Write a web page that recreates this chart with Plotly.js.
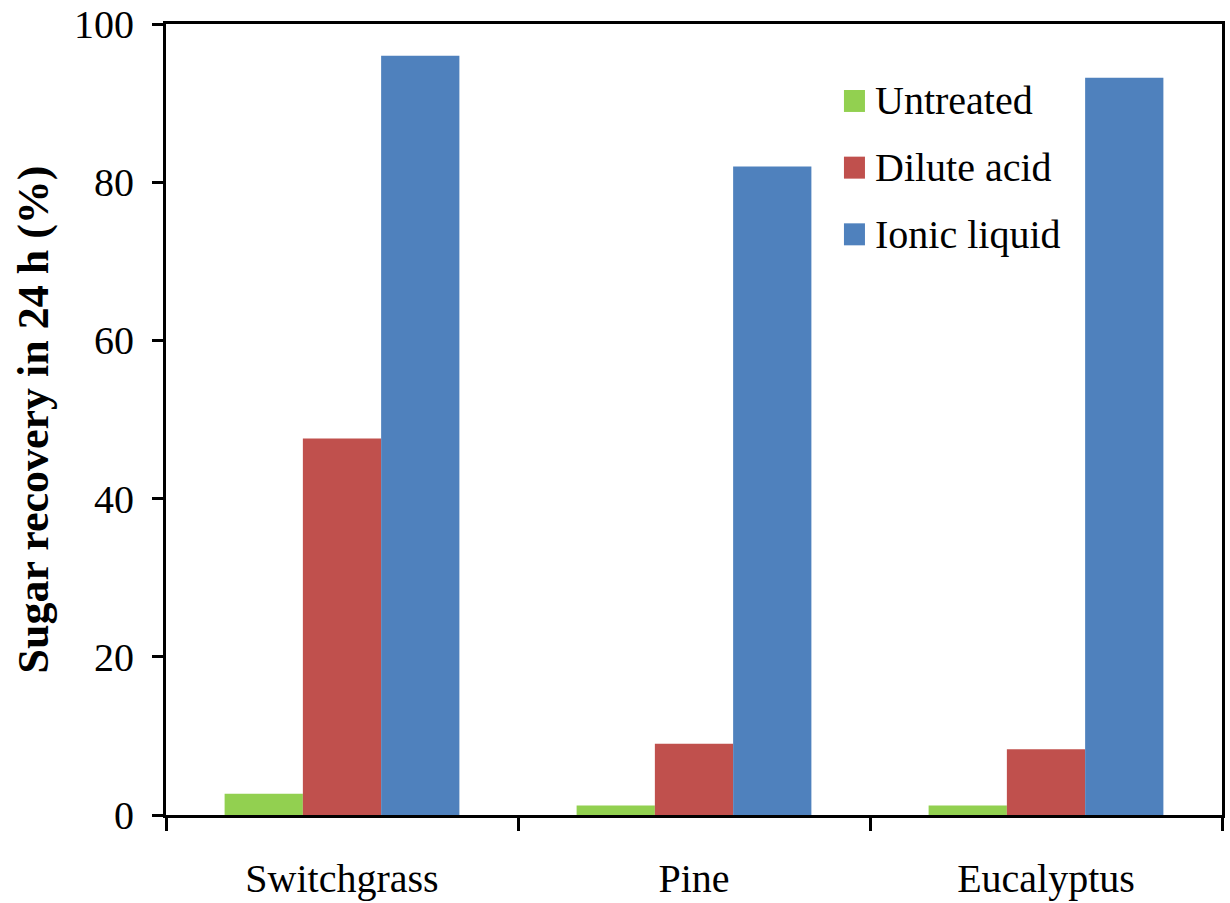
<!DOCTYPE html>
<html>
<head>
<meta charset="utf-8">
<script src="https://cdn.plot.ly/plotly-3.0.1.min.js"></script>
<style>
  html, body { margin: 0; padding: 0; background: #fff; }
  #chart { width: 1230px; height: 903px; }
</style>
</head>
<body>
<div id="chart"></div>
<script>
// Biomass feedstocks and pretreatments
const categories = ["Switchgrass", "Pine", "Eucalyptus"];
const seriesNames = ["Untreated", "Dilute acid", "Ionic liquid"];
const untreated = [2.7, 1.2, 1.2];
const diluteAcid = [47.6, 9.0, 8.3];
const ionicLiquid = [96.0, 82.0, 93.2];
const seriesColors = ["#92D050", "#C0504D", "#4F81BD"];
const yTicks = [0, 20, 40, 60, 80, 100];

const seriesValues = [untreated, diluteAcid, ionicLiquid];
const serif = "Liberation Serif, Times New Roman, serif";

const traces = seriesValues.map((vals, i) => ({
  type: "bar",
  name: seriesNames[i],
  x: categories,
  y: vals,
  marker: { color: seriesColors[i], line: { width: 0 } },
  hoverinfo: "x+y+name"
}));

// Legend drawn as swatch shapes plus text annotations (plot-area paper coordinates)
const legX = 0.642;       // left edge of swatches
const legY0 = 0.9027;     // centre of first row
const legStep = 0.0843;   // row spacing
const swW = 0.0199, swH = 0.0278;
const shapes = seriesNames.map((n, i) => ({
  type: "rect", xref: "paper", yref: "paper",
  x0: legX, x1: legX + swW,
  y0: legY0 - i * legStep - swH / 2, y1: legY0 - i * legStep + swH / 2,
  fillcolor: seriesColors[i], line: { width: 0 }
}));
const annotations = seriesNames.map((n, i) => ({
  xref: "paper", yref: "paper",
  x: 0.6714, y: legY0 - i * legStep,
  xanchor: "left", yanchor: "middle",
  xshift: -2,
  text: n, showarrow: false,
  font: { family: serif, size: 40, color: "#000" }
}));

const layout = {
  width: 1230,
  height: 903,
  margin: { l: 166, r: 8, t: 24, b: 88 },
  paper_bgcolor: "#fff",
  plot_bgcolor: "#fff",
  font: { family: serif, color: "#000", size: 40 },
  barmode: "group",
  bargap: 0.333,
  bargroupgap: 0,
  showlegend: false,
  shapes: shapes,
  annotations: annotations,
  xaxis: {
    type: "category",
    tickson: "boundaries",
    ticks: "outside",
    ticklen: 13,
    tickwidth: 2.5,
    tickcolor: "#000",
    showline: true,
    linecolor: "#000",
    linewidth: 3,
    mirror: true,
    showgrid: false,
    zeroline: false,
    tickfont: { family: serif, size: 40, color: "#000" },
    ticklabelstandoff: 26
  },
  yaxis: {
    range: [0, 100],
    tickvals: yTicks,
    ticktext: yTicks.map(String),
    ticks: "outside",
    ticklen: 11,
    tickwidth: 2.5,
    tickcolor: "#000",
    showline: true,
    linecolor: "#000",
    linewidth: 3,
    mirror: true,
    showgrid: false,
    zeroline: false,
    tickfont: { family: serif, size: 40, color: "#000" },
    ticklabelstandoff: 10,
    title: {
      text: "<b>Sugar recovery in 24 h (%)</b>",
      font: { family: serif, size: 44, color: "#000" },
      standoff: 12
    }
  }
};

Plotly.newPlot("chart", traces, layout, { displayModeBar: false });
</script>
</body>
</html>
